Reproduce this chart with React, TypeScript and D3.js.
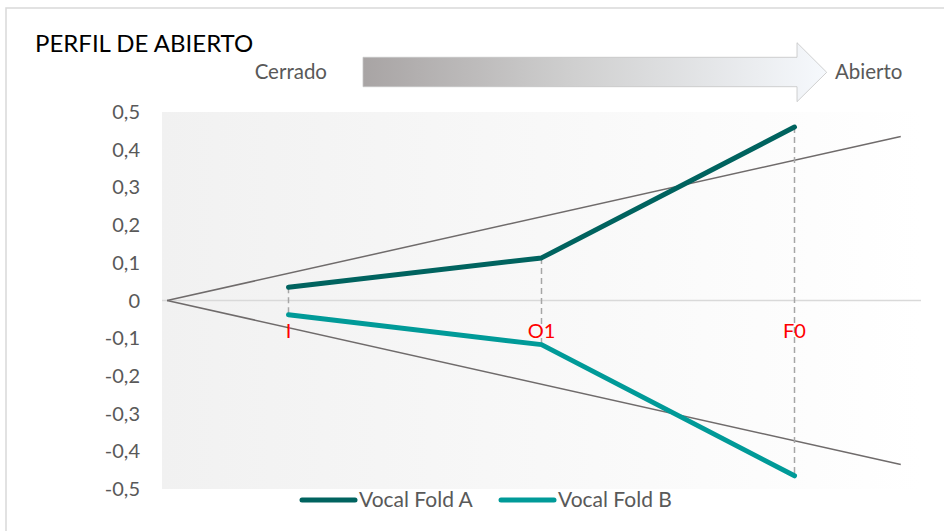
import React, { useEffect } from "react";
import * as d3 from "d3";

const categories = ["I", "O1", "F0"];
const foldA = [0.035, 0.113, 0.46];
const foldB = [-0.038, -0.117, -0.465];
const yTicks = [0.5, 0.4, 0.3, 0.2, 0.1, 0, -0.1, -0.2, -0.3, -0.4, -0.5];
const guideX = [0.52, 3.42];
const guideUpper = [0, 0.435];
const guideLower = [0, -0.435];
const seriesNames = ["Vocal Fold A", "Vocal Fold B"];
const seriesColors = ["#00635f", "#009a98"];

const W = 944;
const H = 531;
const FONT = "Lato, 'Open Sans', sans-serif";

export default function App() {
  useEffect(() => {
    document.body.style.margin = "0";
  }, []);

  const x = d3.scaleLinear().domain([0.5, 3.5]).range([162, 921]);
  const y = d3.scaleLinear().domain([-0.5, 0.5]).range([489, 112]);
  const fmt = (v: number) => (v === 0 ? "0" : d3.format(".1f")(v).replace(".", ",").replace("−", "-"));

  const line = d3
    .line<number>()
    .x((_, i) => x(i + 1))
    .y((d) => y(d));
  const guideLine = (vals: number[]) =>
    d3
      .line<number>()
      .x((_, i) => x(guideX[i]))
      .y((d) => y(d))(vals) as string;

  const series = [foldA, foldB];

  return (
    <svg width={W} height={H} style={{ display: "block", background: "#fff" }}>
      <defs>
        <linearGradient id="plotBg" x1="0" x2="1" y1="0" y2="0">
          <stop offset="0" stopColor="#f1f1f1" />
          <stop offset="1" stopColor="#ffffff" />
        </linearGradient>
        <linearGradient id="arrowGrad" x1="0" x2="1" y1="0" y2="0">
          <stop offset="0" stopColor="#a8a4a4" />
          <stop offset="0.45" stopColor="#cfcfcf" />
          <stop offset="1" stopColor="#f6f9fd" />
        </linearGradient>
      </defs>
      {/* outer border */}
      <path d={`M6,${H} L6,8 L${W},8`} fill="none" stroke="#d9d9d9" strokeWidth={1.5} />

      {/* title */}
      <text x={35} y={52} fontFamily={FONT} fontSize={24} fill="#000">
        PERFIL DE ABIERTO
      </text>

      {/* arrow */}
      <path
        d="M363,57.3 L797,57.3 L797,42.7 L826.7,72.3 L797,101.7 L797,86.7 L363,86.7 Z"
        fill="url(#arrowGrad)"
        stroke="#c4c4c4"
        strokeWidth={0.8}
      />
      <text x={327} y={72} dy="0.35em" textAnchor="end" fontFamily={FONT} fontSize={20.5} fill="#595959">
        Cerrado
      </text>
      <text x={835} y={72} dy="0.35em" fontFamily={FONT} fontSize={20.5} fill="#595959">
        Abierto
      </text>

      {/* plot background */}
      <rect x={x(0.5)} y={y(0.5)} width={x(3.5) - x(0.5)} height={y(-0.5) - y(0.5)} fill="url(#plotBg)" />

      {/* zero line */}
      <line x1={x(0.5)} x2={x(3.5)} y1={y(0)} y2={y(0)} stroke="#d9d9d9" strokeWidth={1.5} />

      {/* y tick labels */}
      {yTicks.map((t) => (
        <text key={t} x={140} y={y(t)} dy="0.35em" textAnchor="end" fontFamily={FONT} fontSize={20} fill="#595959">
          {fmt(t)}
        </text>
      ))}

      {/* guide lines */}
      <path d={guideLine(guideUpper)} fill="none" stroke="#6f6b6b" strokeWidth={1.5} />
      <path d={guideLine(guideLower)} fill="none" stroke="#6f6b6b" strokeWidth={1.5} />

      {/* high-low dashed lines */}
      {categories.map((c, i) => (
        <line
          key={c}
          x1={x(i + 1)}
          x2={x(i + 1)}
          y1={y(foldA[i])}
          y2={y(foldB[i])}
          stroke="#a6a6a6"
          strokeWidth={1.5}
          strokeDasharray="6,4"
        />
      ))}

      {/* category labels */}
      {categories.map((c, i) => (
        <text key={c} x={x(i + 1)} y={331} dy="0.35em" textAnchor="middle" fontFamily={FONT} fontSize={20} fill="#ff0000">
          {c}
        </text>
      ))}

      {/* series */}
      {series.map((s, k) => (
        <path
          key={k}
          d={line(s) as string}
          fill="none"
          stroke={seriesColors[k]}
          strokeWidth={5}
          strokeLinecap="round"
          strokeLinejoin="round"
        />
      ))}

      {/* legend */}
      {seriesNames.map((n, k) => {
        const lx = k === 0 ? 302 : 501;
        return (
          <g key={n}>
            <line x1={lx} x2={lx + 53} y1={500} y2={500} stroke={seriesColors[k]} strokeWidth={5} strokeLinecap="round" />
            <text x={lx + 57} y={500} dy="0.35em" fontFamily={FONT} fontSize={21} fill="#595959">
              {n}
            </text>
          </g>
        );
      })}
    </svg>
  );
}
